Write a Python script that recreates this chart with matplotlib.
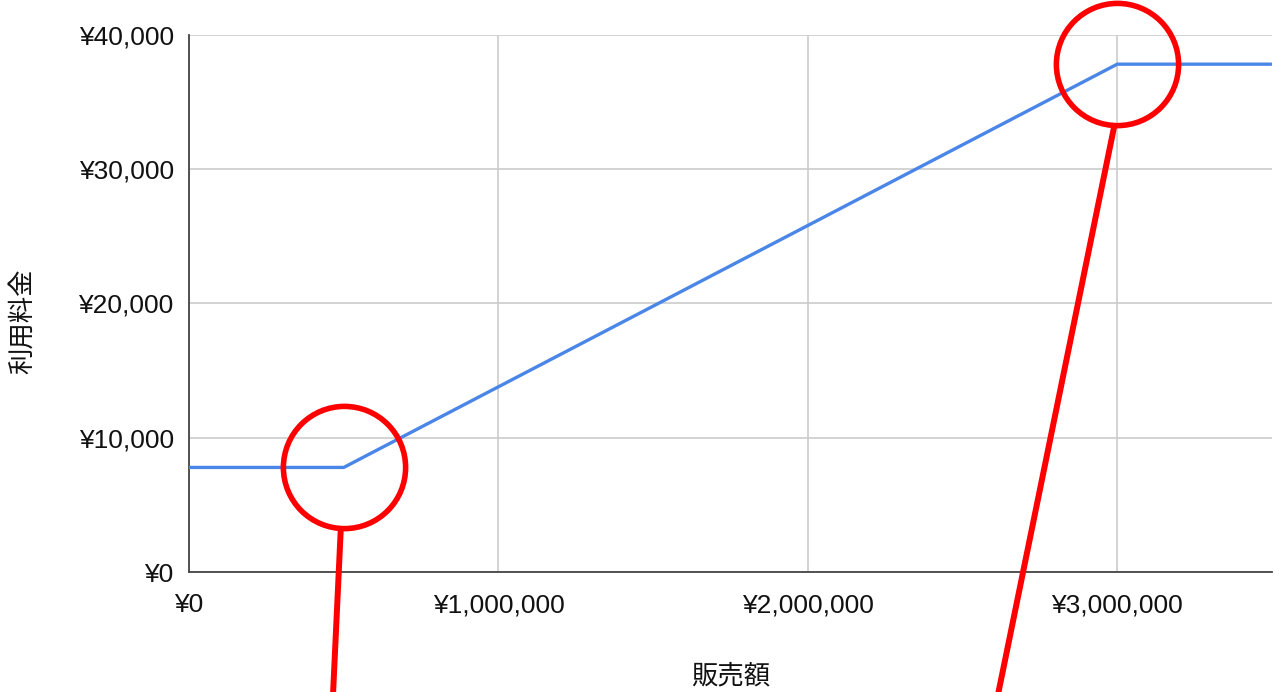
import matplotlib
matplotlib.use("Agg")
import matplotlib.pyplot as plt
from matplotlib.lines import Line2D
from matplotlib.ticker import FuncFormatter

plt.rcParams['font.family'] = ['Liberation Sans', 'Noto Sans CJK JP', 'DejaVu Sans']

# data: sales (yen) vs usage fee (yen)
sales = [0, 500000, 3000000, 3500000]
fee = [7800, 7800, 37800, 37800]
# points highlighted with red circles
mark_x = [500000, 3000000]
mark_y = [7800, 37800]
# where the red pointer lines leave the picture (figure fraction x at bottom)
pointer_end_x = [0.26, 0.779]

x_ticks = [0, 1000000, 2000000, 3000000]
y_ticks = [0, 10000, 20000, 30000, 40000]

fig = plt.figure(figsize=(12.8, 6.92), dpi=100)
ax = fig.add_axes([0.1477, 0.173, 0.846, 0.777])

ax.plot(sales, fee, color='#4a86e8', lw=2.4, solid_capstyle='butt', zorder=3)

ax.set_xlim(0, 3500000)
ax.set_ylim(0, 40000)
ax.set_xticks(x_ticks)
ax.set_yticks(y_ticks)
yen = FuncFormatter(lambda v, p: '¥{:,}'.format(int(v)))
ax.xaxis.set_major_formatter(yen)
ax.yaxis.set_major_formatter(yen)
ax.tick_params(length=0, labelsize=19, colors='#111111')
ax.tick_params(axis='x', pad=15)
ax.tick_params(axis='y', pad=11)

ax.grid(True, color='#cccccc', lw=1.2)
ax.set_axisbelow(True)
for s in ['top', 'right']:
    ax.spines[s].set_visible(False)
for s in ['left', 'bottom']:
    ax.spines[s].set_color('#444444')
    ax.spines[s].set_linewidth(1.3)

ax.set_xlabel('販売額', fontsize=19, color='#111111')
ax.xaxis.set_label_coords(0.5, -0.17)
ax.set_ylabel('利用料金', fontsize=19, color='#111111')
ax.yaxis.set_label_coords(-0.142, 0.467)

# red circles around the kinks
ax.plot(mark_x, mark_y, 'o', ms=88, mfc='none', mec='#ff0000', mew=4,
        clip_on=False, zorder=5)

# red pointer lines from the bottom of each circle down out of the figure
fig.canvas.draw()
radius_px = 62
for mx, my, ex in zip(mark_x, mark_y, pointer_end_x):
    px, py = ax.transData.transform((mx, my))
    fx, fy = fig.transFigure.inverted().transform((px - 3, py - radius_px))
    fig.add_artist(Line2D([fx, ex], [fy, -0.01], color='#ff0000', lw=4.3,
                          transform=fig.transFigure, zorder=6))

fig.savefig('out.png', dpi=100)
